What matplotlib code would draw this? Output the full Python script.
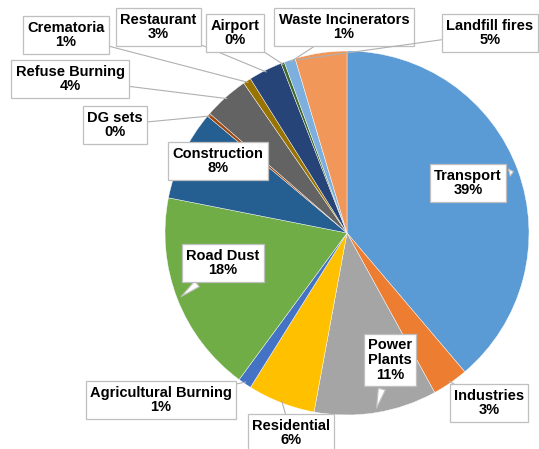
"""
Pie chart: source apportionment of emissions (share of total, %)
"""

import matplotlib
matplotlib.use("Agg")

import matplotlib.pyplot as plt
import numpy as np

# ── data ────────────────────────────────────────────────────────────────────
sources = [
    "Transport", "Industries", "Power\nPlants", "Residential",
    "Agricultural Burning", "Road Dust", "Construction", "DG sets",
    "Refuse Burning", "Crematoria", "Restaurant", "Airport",
    "Waste Incinerators", "Landfill fires",
]
shares = [38.8, 3.2, 10.9, 6.0, 1.2, 18.0, 8.0, 0.3, 4.0, 0.7, 3.0, 0.3, 1.0, 4.6]
pct_labels = ["39%", "3%", "11%", "6%", "1%", "18%", "8%", "0%",
              "4%", "1%", "3%", "0%", "1%", "5%"]

colors = [
    "#5B9BD5", "#ED7D31", "#A5A5A5", "#FFC000", "#4472C4", "#70AD47",
    "#255E91", "#9E480E", "#636363", "#997300", "#264478", "#43682B",
    "#7CAFDD", "#F1975A",
]

# ── layout (pixel coords, y measured from top) ─────────────────────────────
W, H = 539, 449
CX, CY, R = 347, 233, 182
label_pos = [
    (468, 183), (489, 403), (390, 360), (291, 433), (161, 400), (223, 263),
    (218, 161), (115, 125), (70, 79), (66, 35), (158, 27), (235, 33),
    (344, 27), (490, 33),
]
# where along each wedge the callout points (0 = theta1, 1 = theta2)
anchor_frac = [0.5] * 13 + [0.97]
inside = {"Transport", "Power\nPlants", "Road Dust"}
no_pointer = {"Construction"}

plt.rcParams.update({
    "font.family": "Liberation Sans",
    "font.weight": "bold",
    "font.size": 10.5,
})

fig = plt.figure(figsize=(W / 100, H / 100), dpi=100)
ax = fig.add_axes([0, 0, 1, 1])

center = (CX, H - CY)
wedges, _ = ax.pie(
    shares, colors=colors, startangle=90, counterclock=False,
    center=center, radius=R,
    wedgeprops=dict(edgecolor="white", linewidth=0.3),
)
ax.set_xlim(0, W)
ax.set_ylim(0, H)
ax.set_aspect("equal")
ax.axis("off")

box = dict(boxstyle="square,pad=0.3", facecolor="white", edgecolor="#BFBFBF", linewidth=0.9)

for w, name, pct, (lx, ly), fr in zip(wedges, sources, pct_labels, label_pos, anchor_frac):
    ang = np.deg2rad(w.theta1 + fr * (w.theta2 - w.theta1))
    tip = (CX + 0.99 * R * np.cos(ang), (H - CY) + 0.99 * R * np.sin(ang))
    text = f"{name}\n{pct}"
    if name in no_pointer:
        ax.text(lx, H - ly, text, ha="center", va="center", linespacing=1.05, bbox=box)
        continue
    if name in inside:
        arrow = dict(arrowstyle="wedge,tail_width=0.5,shrink_factor=0.5",
                     facecolor="white", edgecolor="#BFBFBF", linewidth=0.8)
    else:
        arrow = dict(arrowstyle="-", color="#B0B0B0", linewidth=0.8,
                     shrinkA=0, shrinkB=0)
    ax.annotate(text, xy=tip, xytext=(lx, H - ly), ha="center", va="center",
                linespacing=1.05, bbox=box, arrowprops=arrow)

fig.savefig("out.png", dpi=100)
